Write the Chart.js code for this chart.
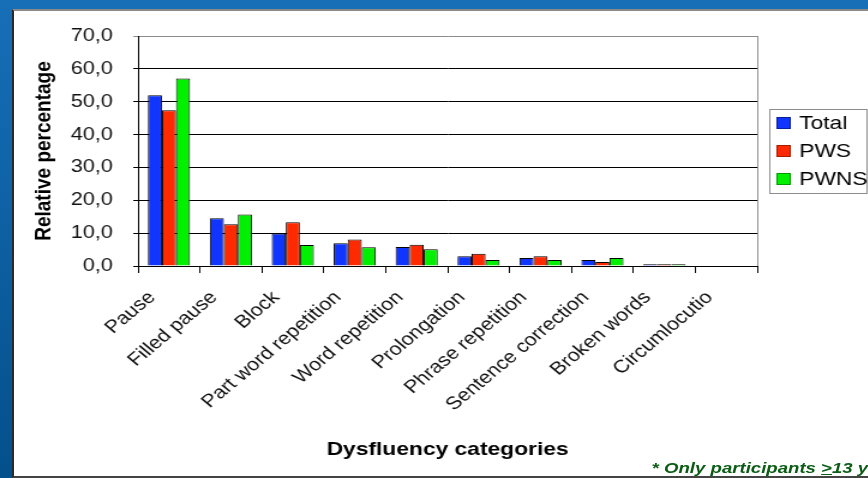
<!DOCTYPE html>
<html>
<head>
<meta charset="utf-8">
<title>Dysfluency categories</title>
<script src="https://cdn.jsdelivr.net/npm/chart.js@4.4.1/dist/chart.umd.min.js"></script>
<style>
  html, body { margin: 0; padding: 0; }
  body {
    width: 868px; height: 478px; overflow: hidden; position: relative;
    background: linear-gradient(to bottom, #176fb8, #03508b);
    font-family: "Liberation Sans", Arial, sans-serif;
  }
  .panel {
    position: absolute; left: 12px; top: 9px; width: 870px; height: 465px;
    background: #fff;
    border-left: 2px solid #2a2a2a; border-top: 2px solid #8a8a8a; border-bottom: 2px solid #444;
  }
  /* the slide is drawn a bit wider than tall, so the whole stage gets stretched */
  .stage {
    position: absolute; left: 0; top: 0; width: 724px; height: 478px;
    transform: scaleX(1.2); transform-origin: 0 0;
  }
  .stage canvas { position: absolute; left: 0; top: 0; }
  .note {
    position: absolute; left: 543px; top: 459px; white-space: nowrap;
    font: italic bold 15.5px "Liberation Sans", Arial, sans-serif; color: #0b5c14;
  }
</style>
</head>
<body>
<div class="panel"></div>
<div class="stage">
  <canvas id="dysfluencyChart" width="724" height="478"></canvas>
  <div class="note">* Only participants <u>&gt;</u>13 years</div>
</div>
<script>
const categories = [
  "Pause", "Filled pause", "Block", "Part word repetition", "Word repetition",
  "Prolongation", "Phrase repetition", "Sentence correction", "Broken words", "Circumlocutio"
];
const totalValues = [52.0, 14.5, 9.9, 6.9, 5.8, 3.0, 2.4, 1.8, 0.5, 0];
const pwsValues = [47.4, 12.7, 13.3, 8.1, 6.5, 3.7, 3.0, 1.2, 0.5, 0];
const pwnsValues = [57.1, 15.7, 6.4, 5.7, 5.1, 1.8, 1.8, 2.4, 0.5, 0];

const seriesNames = ["Total", "PWS", "PWNS"];
const fillColors = ["#1035ff", "#ff2a00", "#00f000"];
const keyEdges = ["#0a1f9c", "#a81c00", "#009a00"];

const font = '"Liberation Sans", Arial, sans-serif';

// legend in its own framed box to the right of the plot
const boxLegend = {
  id: "boxLegend",
  afterDraw(chart) {
    const ctx = chart.ctx;
    const x = 641, y = 109, w = 81, h = 84;
    ctx.save();
    ctx.strokeStyle = "#8c8c8c";
    ctx.lineWidth = 1;
    ctx.strokeRect(x + 0.5, y + 0.5, w, h);
    ctx.font = "19px " + font;
    ctx.textBaseline = "middle";
    chart.data.datasets.forEach((ds, i) => {
      const cy = y + 14 + i * 28;
      ctx.fillStyle = ds.backgroundColor;
      ctx.fillRect(x + 6, cy - 6, 12, 12);
      ctx.strokeStyle = keyEdges[i];
      ctx.strokeRect(x + 6.5, cy - 5.5, 11, 11);
      ctx.fillStyle = "#000";
      ctx.fillText(ds.label, x + 25, cy + 1);
    });
    ctx.restore();
  }
};

// grey frame on the right side of the plot area
const plotFrame = {
  id: "plotFrame",
  beforeDatasetsDraw(chart) {
    const { ctx, chartArea: a } = chart;
    ctx.save();
    ctx.strokeStyle = "#8c8c8c";
    ctx.lineWidth = 1;
    ctx.beginPath();
    ctx.moveTo(a.right + 0.5, a.top);
    ctx.lineTo(a.right + 0.5, a.bottom);
    ctx.stroke();
    ctx.restore();
  }
};

new Chart(document.getElementById("dysfluencyChart"), {
  type: "bar",
  data: {
    labels: categories,
    datasets: [totalValues, pwsValues, pwnsValues].map((values, i) => ({
      label: seriesNames[i],
      data: values,
      backgroundColor: fillColors[i],
      borderColor: "#000",
      borderWidth: 1,
      categoryPercentage: 0.68,
      barPercentage: 1.0
    }))
  },
  options: {
    responsive: false,
    animation: false,
    layout: { padding: { top: 36, right: 93, left: 0, bottom: 0 } },
    plugins: {
      legend: { display: false },
      tooltip: { enabled: false }
    },
    scales: {
      x: {
        afterFit: (scale) => { scale.height = 212; },
        grid: { offset: true, drawOnChartArea: false, tickLength: 7, color: "#000" },
        border: { color: "#000" },
        ticks: {
          autoSkip: false,
          minRotation: 45,
          maxRotation: 45,
          padding: 14,
          labelOffset: -14,
          color: "#111",
          font: { family: font, size: 18 }
        },
        title: {
          display: true,
          text: "Dysfluency categories",
          color: "#000",
          padding: { bottom: 17 },
          font: { family: font, size: 19, weight: "bold" }
        }
      },
      y: {
        min: 0,
        max: 70,
        afterFit: (scale) => { scale.width = 115; },
        grid: {
          tickLength: 4,
          color: (c) => (c.tick && c.tick.value === 70 ? "#8c8c8c" : "#000")
        },
        border: { color: "#000" },
        ticks: {
          stepSize: 10,
          padding: 17,
          color: "#111",
          font: { family: font, size: 18 },
          callback: (v) => v.toFixed(1).replace(".", ",")
        },
        title: {
          display: true,
          text: "Relative percentage",
          color: "#000",
          padding: { top: 25 },
          font: { family: font, size: 19, weight: "bold" }
        }
      }
    }
  },
  plugins: [plotFrame, boxLegend]
});
</script>
</body>
</html>
